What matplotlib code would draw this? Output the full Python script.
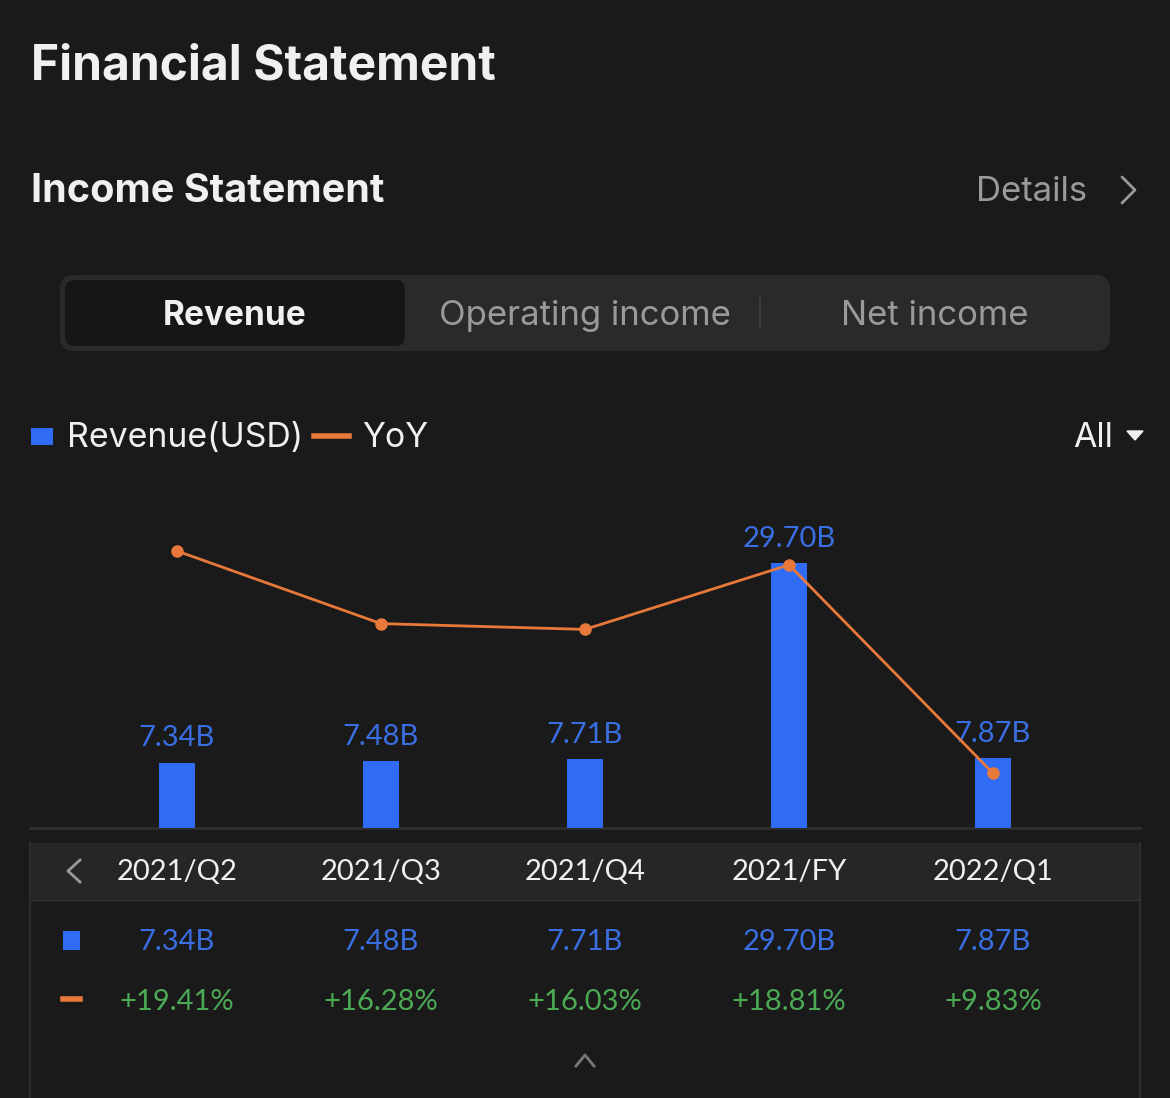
import numpy as np
import matplotlib.pyplot as plt
from matplotlib.patches import FancyBboxPatch, Rectangle

# Datos
periodos = ['2021/Q2', '2021/Q3', '2021/Q4', '2021/FY', '2022/Q1']
revenue = [7.34, 7.48, 7.71, 29.70, 7.87]          # miles de millones USD
yoy = [19.41, 16.28, 16.03, 18.81, 9.83]            # %
revenue_labels = ['7.34B', '7.48B', '7.71B', '29.70B', '7.87B']
yoy_labels = ['+19.41%', '+16.28%', '+16.03%', '+18.81%', '+9.83%']
tabs = ['Revenue', 'Operating income', 'Net income']

# Colores
BG = '#1a1a1a'
AZUL = '#2f6bf5'
AZUL_TXT = '#3a6fe3'
NARANJA = '#e8793a'
VERDE = '#4caa55'
GRIS = '#9a9a9a'
BLANCO = '#f0f0f0'

W, H = 1170, 1098
plt.rcParams['font.family'] = ['Lato', 'DejaVu Sans']
UI = ['Inter', 'DejaVu Sans']

fig = plt.figure(figsize=(W / 100, H / 100), dpi=100, facecolor=BG)

# Eje de fondo en pixeles
bg = fig.add_axes([0, 0, 1, 1])
bg.set_xlim(0, W)
bg.set_ylim(H, 0)
bg.axis('off')
bg.set_facecolor(BG)

# Titulos
bg.text(31, 67, 'Financial Statement', color=BLANCO, fontsize=34.5, fontweight='bold',
        va='center', ha='left', family=UI)
bg.text(31, 192, 'Income Statement', color=BLANCO, fontsize=28.5, fontweight='bold',
        va='center', ha='left', family=UI)
bg.text(1087, 192, 'Details', color=GRIS, fontsize=25, va='center', ha='right', family=UI)
bg.plot([1122, 1135, 1122], [177, 190, 203], color=GRIS, lw=2, solid_capstyle='round')

# Selector de pestanias
bg.add_patch(FancyBboxPatch((60, 275), 1050, 76, boxstyle='round,pad=0,rounding_size=14',
                            fc='#2a2a2a', ec='none'))
bg.add_patch(FancyBboxPatch((65, 280), 340, 66, boxstyle='round,pad=0,rounding_size=10',
                            fc='#161616', ec='none'))
bg.text(235, 316, tabs[0], color=BLANCO, fontsize=24, fontweight='bold', va='center', ha='center', family=UI)
bg.text(585, 316, tabs[1], color=GRIS, fontsize=25, va='center', ha='center', family=UI)
bg.text(935, 316, tabs[2], color=GRIS, fontsize=25, va='center', ha='center', family=UI)
bg.plot([760, 760], [298, 328], color='#3a3a3a', lw=1.5)

# Leyenda
bg.add_patch(Rectangle((31, 428), 22, 17, fc=AZUL, ec='none'))
bg.text(67, 438, 'Revenue(USD)', color=BLANCO, fontsize=24.4, va='center', ha='left', family=UI)
bg.plot([314, 349], [436, 436], color=NARANJA, lw=4)
bg.text(362, 438, 'YoY', color=BLANCO, fontsize=24.4, va='center', ha='left', family=UI)
bg.text(1113, 438, 'All', color=BLANCO, fontsize=24.4, va='center', ha='right', family=UI)
bg.fill([1127, 1143, 1135], [431, 431, 440], color=BLANCO)

# Linea base
bg.plot([30, 1140], [828, 828], color='#2e2e2e', lw=2)

# Tabla
bg.add_patch(Rectangle((30, 843), 1110, 57, fc='#262626', ec='none'))
bg.plot([30, 30], [843, H], color='#2e2e2e', lw=1.5)
bg.plot([1140, 1140], [843, H], color='#2e2e2e', lw=1.5)
bg.plot([1140, 30], [900, 900], color='#333333', lw=1)
bg.plot([80, 68, 80], [860, 871, 882], color=GRIS, lw=2)
bg.add_patch(Rectangle((63, 931), 17, 19, fc=AZUL, ec='none'))
bg.plot([63, 80], [999, 999], color=NARANJA, lw=4)
bg.plot([576, 585, 594], [1066, 1055, 1066], color='#777777', lw=2)

xs = 177 + 204 * np.arange(len(periodos))
for i, x in enumerate(xs):
    bg.text(x, 872, periodos[i], color=BLANCO, fontsize=21, va='center', ha='center')
    bg.text(x, 942, revenue_labels[i], color=AZUL_TXT, fontsize=21, va='center', ha='center')
    bg.text(x, 1002, yoy_labels[i], color=VERDE, fontsize=21, va='center', ha='center')

# Grafico principal
ax = fig.add_axes([30 / W, 1 - 828 / H, 1110 / W, 348 / H])
ax.patch.set_alpha(0)
x = np.arange(len(periodos))
ax.bar(x, revenue, width=36 / 204, color=AZUL, zorder=2)
for i in range(len(x)):
    ax.annotate(revenue_labels[i], (x[i], revenue[i]), xytext=(0, 8), textcoords='offset points',
                ha='center', va='bottom', color=AZUL_TXT, fontsize=21)
ax.set_xlim(-0.7206, 4.7206)
ax.set_ylim(0, 39.0)
ax.axis('off')

ax2 = ax.twinx()
ax2.plot(x, yoy, color=NARANJA, lw=2, marker='o', markersize=8, zorder=3)
ax2.set_ylim(7.47, 22.47)
ax2.set_xlim(-0.7206, 4.7206)
ax2.axis('off')

fig.savefig('out.png', dpi=100, facecolor=BG)
